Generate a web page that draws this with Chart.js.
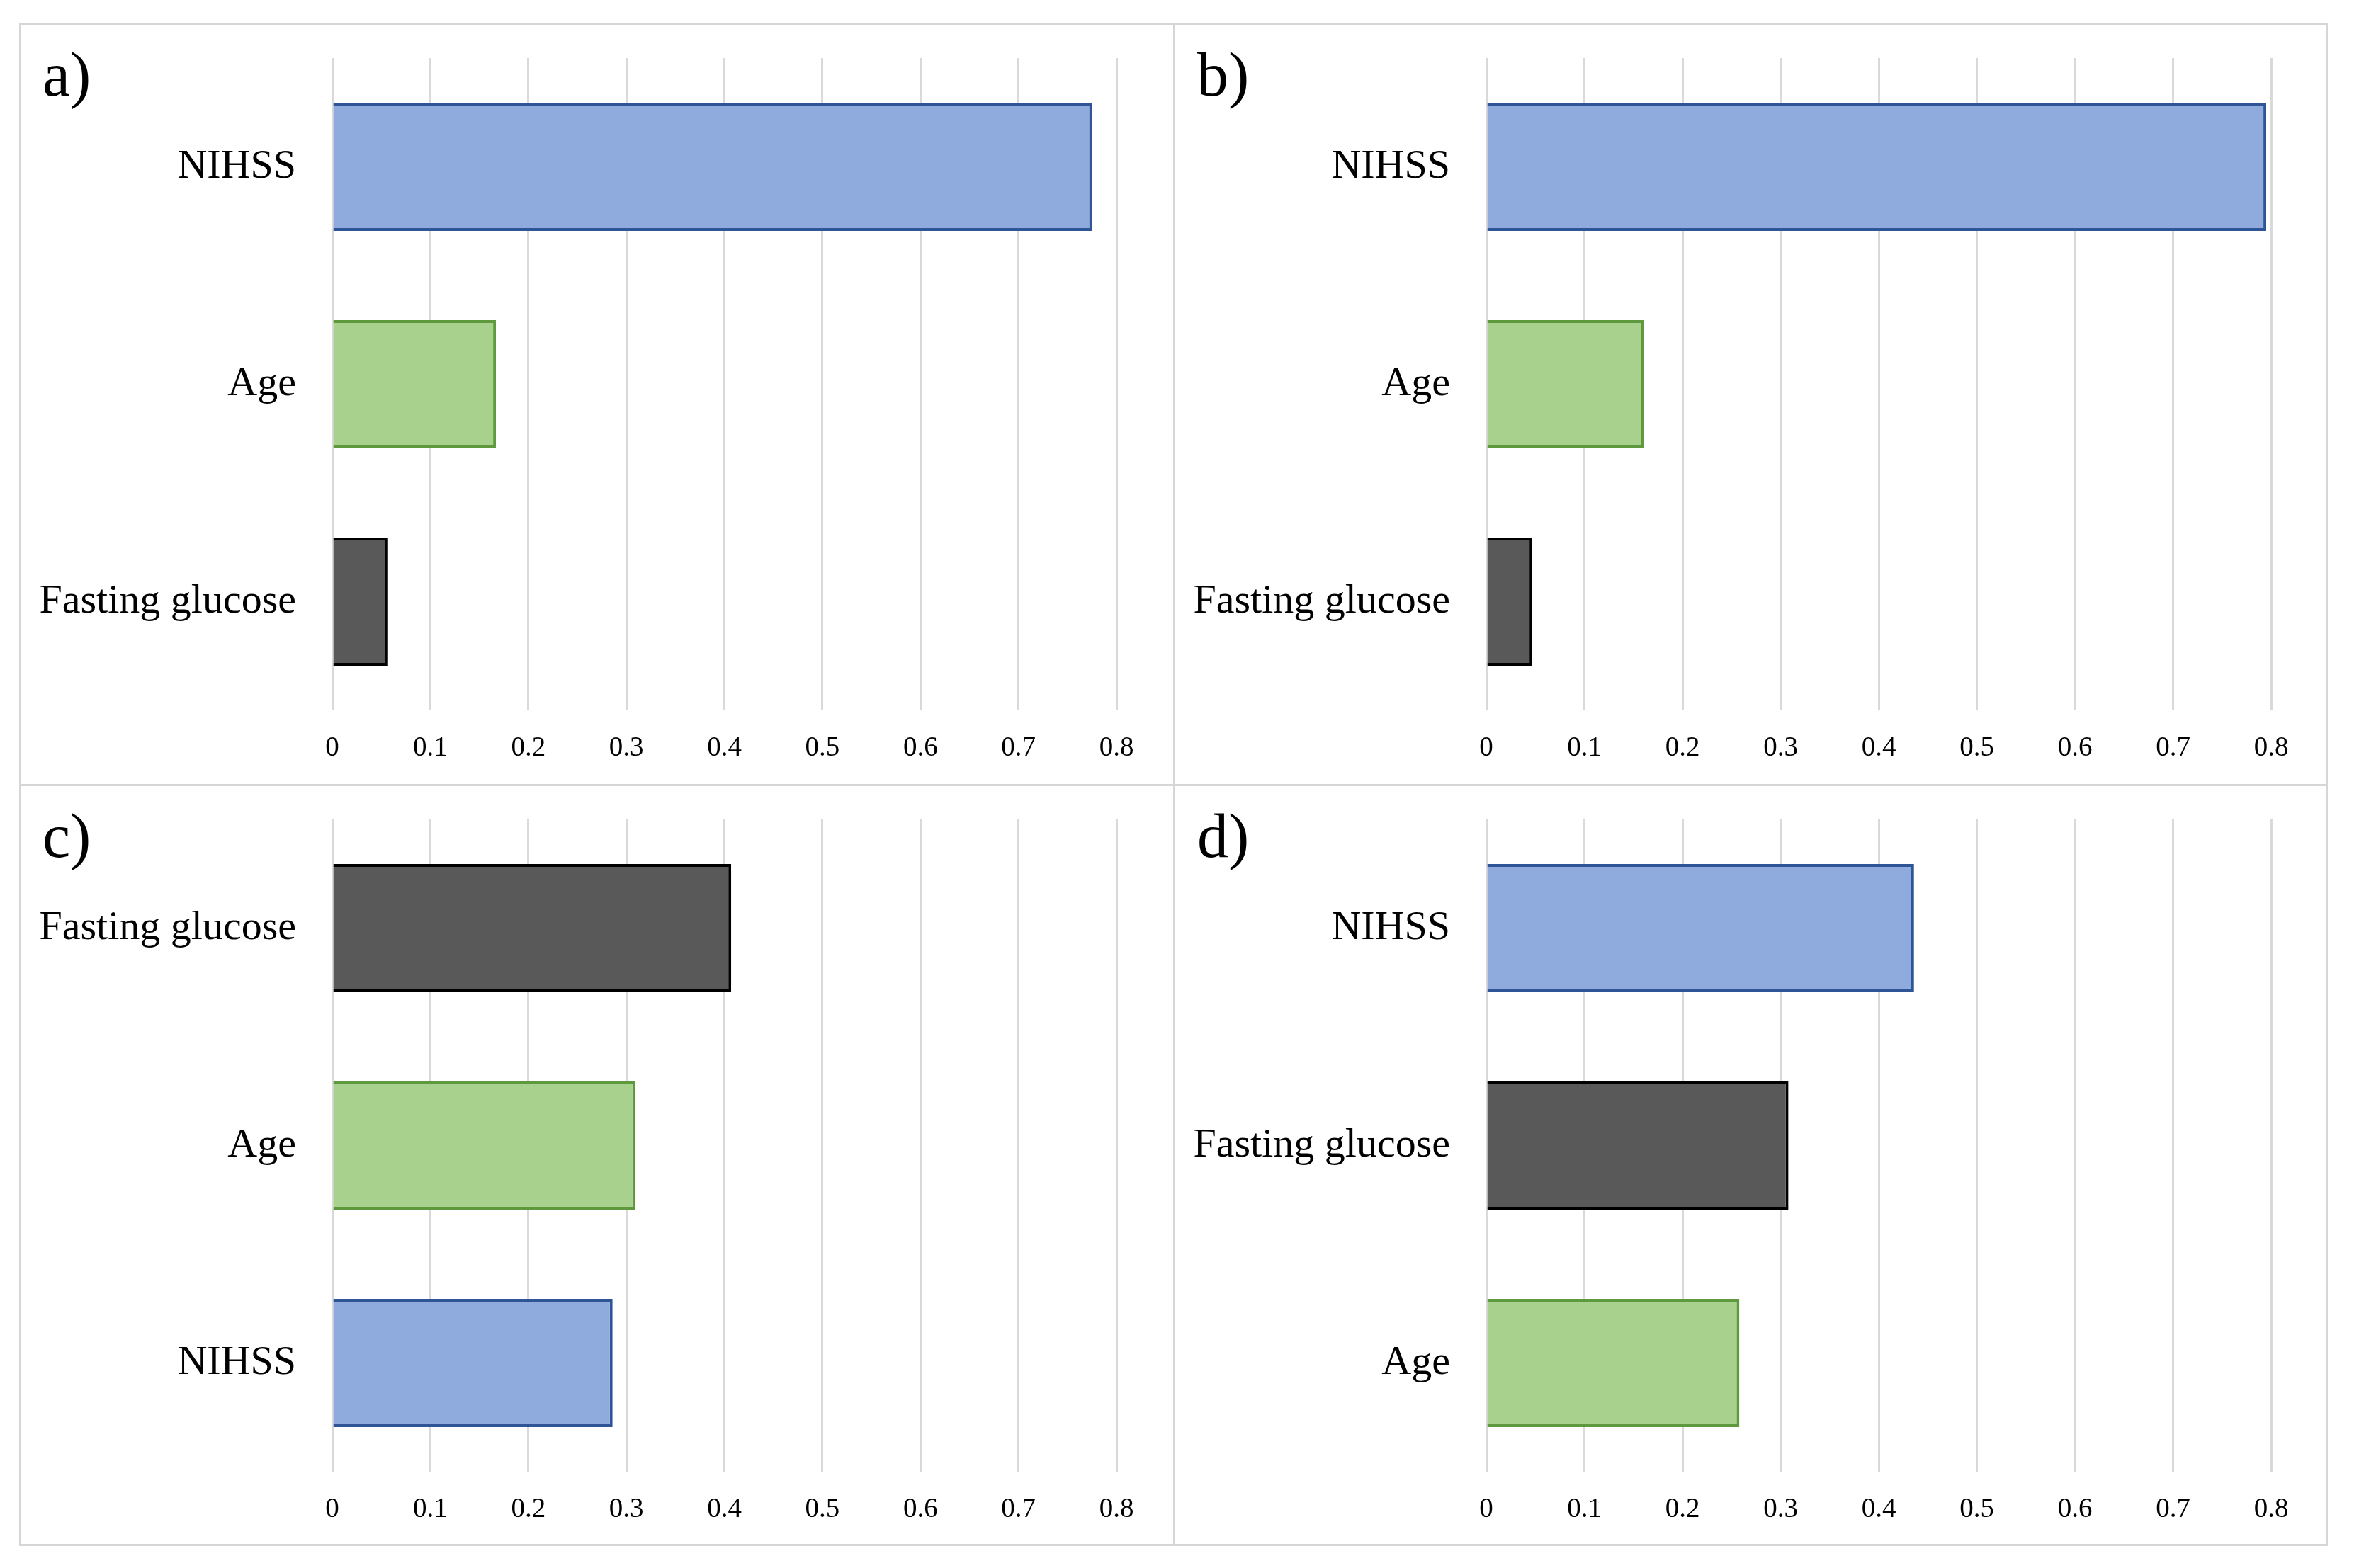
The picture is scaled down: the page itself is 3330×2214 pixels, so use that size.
<!DOCTYPE html>
<html>
<head>
<meta charset="utf-8">
<script src="https://cdn.jsdelivr.net/npm/chart.js@4"></script>
<style>
  body{margin:0;background:#fff;width:3330px;height:2214px;position:relative;overflow:hidden;font-family:"Liberation Serif",serif}
  .frame{position:absolute;border:3px solid #d6d6d6;box-sizing:border-box}
  canvas{position:absolute}
  .tag{position:absolute;font-size:88px;line-height:1;color:#000}
</style>
</head>
<body>
<div class="frame" style="left:27px;top:32px;width:1632px;height:1078px"></div>
<div class="frame" style="left:1656px;top:32px;width:1630px;height:1078px"></div>
<div class="frame" style="left:27px;top:1107px;width:1632px;height:1076px"></div>
<div class="frame" style="left:1656px;top:1107px;width:1630px;height:1076px"></div>

<canvas id="chartA" width="1629" height="1075" style="left:27px;top:32px"></canvas>
<canvas id="chartB" width="1630" height="1075" style="left:1656px;top:32px"></canvas>
<canvas id="chartC" width="1629" height="1075" style="left:27px;top:1107px"></canvas>
<canvas id="chartD" width="1630" height="1075" style="left:1656px;top:1107px"></canvas>

<div class="tag" style="left:60px;top:62px">a)</div>
<div class="tag" style="left:1690px;top:62px">b)</div>
<div class="tag" style="left:60px;top:1137px">c)</div>
<div class="tag" style="left:1690px;top:1137px">d)</div>

<script>
const xTickLabels = ['0', '0.1', '0.2', '0.3', '0.4', '0.5', '0.6', '0.7', '0.8'];

const labelsA = ['NIHSS', 'Age', 'Fasting glucose'];
const valuesA = [0.775, 0.167, 0.057];

const labelsB = ['NIHSS', 'Age', 'Fasting glucose'];
const valuesB = [0.795, 0.161, 0.047];

const labelsC = ['Fasting glucose', 'Age', 'NIHSS'];
const valuesC = [0.407, 0.309, 0.286];

const labelsD = ['NIHSS', 'Fasting glucose', 'Age'];
const valuesD = [0.436, 0.308, 0.258];

const fills = {'NIHSS': '#8faadc', 'Age': '#a9d18e', 'Fasting glucose': '#595959'};
const edges = {'NIHSS': '#2f5597', 'Age': '#5e9a3d', 'Fasting glucose': '#000000'};

function dibujar(id, labels, values){
  const ctx = document.getElementById(id).getContext('2d');
  new Chart(ctx, {
    type: 'bar',
    data: {
      labels: labels,
      datasets: [{
        data: values,
        backgroundColor: labels.map(l => fills[l]),
        borderColor: labels.map(l => edges[l]),
        borderWidth: 4,
        categoryPercentage: 1,
        barPercentage: 0.59
      }]
    },
    options: {
      indexAxis: 'y',
      responsive: false,
      animation: false,
      devicePixelRatio: 1,
      layout: {padding: {top: 50, right: 80, left: 0, bottom: 0}},
      plugins: {legend: {display: false}, tooltip: {enabled: false}},
      scales: {
        x: {
          min: 0, max: 0.8,
          ticks: {
            stepSize: 0.1, padding: 30, color: '#000',
            font: {family: 'Liberation Serif', size: 39},
            callback: (v, i) => xTickLabels[i]
          },
          grid: {color: '#d9d9d9', lineWidth: 3, drawTicks: false},
          border: {display: false},
          afterFit: s => { s.height = 104; }
        },
        y: {
          // tiny lineHeight so the labels don't push the plot area down
          ticks: {padding: 43, color: '#000', font: {family: 'Liberation Serif', size: 58, lineHeight: 0.1}},
          grid: {display: false},
          border: {display: false},
          afterFit: s => { s.width = 442; }
        }
      }
    }
  });
}

dibujar('chartA', labelsA, valuesA);
dibujar('chartB', labelsB, valuesB);
dibujar('chartC', labelsC, valuesC);
dibujar('chartD', labelsD, valuesD);
</script>
</body>
</html>
